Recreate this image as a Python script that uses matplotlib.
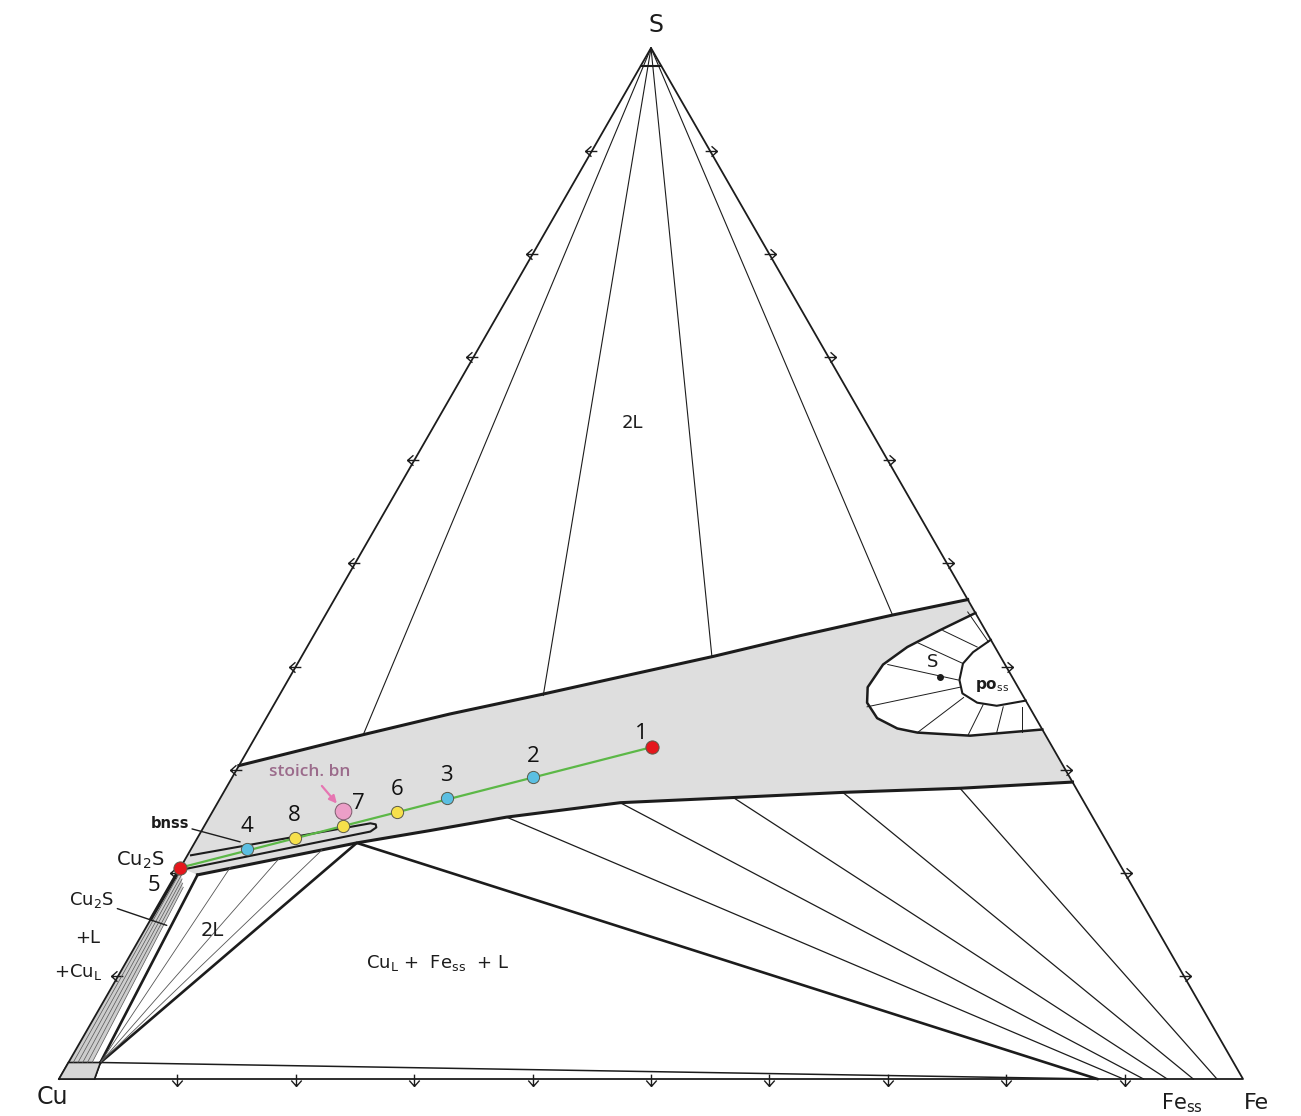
import numpy as np
import matplotlib.pyplot as plt
from matplotlib.path import Path

W, H = 1301, 1116

# Cu-Fe-S ternary section, weight %. Every point is (S, Fe); Cu is the rest.

# tie lines from the S corner to the upper limb of the liquid band
apex_tie_S = [33.4, 37.2, 40.9, 45.0]
apex_tie_Fe = [9.0, 22.3, 34.7, 47.9]

# upper and lower limbs of the shaded band
band_top_S = [30.4, 33.4, 35.4, 37.3, 39.2, 41.0, 43.0, 45.0, 46.5]
band_top_Fe = [0.0, 9.0, 15.3, 22.1, 28.6, 34.8, 41.1, 47.9, 53.5]
band_bot_S = [19.8, 22.9, 24.1, 25.4, 26.8, 27.3, 27.8, 28.2, 28.8]
band_bot_Fe = [1.8, 13.7, 19.3, 25.1, 34.0, 43.3, 52.3, 62.0, 71.2]
cu2s_S, cu2s_Fe = 20.5, 0.0

# tie lines from the lower limb down to Fe solid solution
fess_tie_top_S = [25.4, 26.8, 27.3, 27.8, 28.2]
fess_tie_top_Fe = [25.1, 34.0, 43.3, 52.3, 62.0]
fess_tie_bot_Fe = [89.9, 91.6, 93.6, 95.8, 97.8]

# three-phase triangle Cu_L + Fess + L
tri3_S = [1.6, 22.9, 0.0, 1.6]
tri3_Fe = [2.7, 13.7, 87.7, 2.7]

# bnss strip outline
bnss_S = [21.7, 24.8, 24.7, 24.4, 24.0, 20.4]
bnss_Fe = [0.3, 13.9, 14.4, 14.6, 14.3, 0.6]

# pyrrhotite loop on the Fe-S side
loop_out_S = [45.2, 43.5, 41.9, 40.2, 38.0, 36.5, 35.0, 34.0, 33.6, 33.3, 33.9]
loop_out_Fe = [54.8, 52.6, 50.7, 49.5, 49.3, 50.0, 51.6, 53.8, 55.7, 60.3, 66.1]
loop_in_S = [42.6, 41.4, 40.3, 38.7, 37.4, 36.5, 36.2, 36.7]
loop_in_Fe = [57.4, 56.5, 56.2, 56.7, 57.6, 59.3, 61.1, 63.3]
loop_tie_a_S = [45.3, 43.5, 42.3, 40.2, 36.1, 33.6, 33.4, 33.6, 33.7]
loop_tie_a_Fe = [54.1, 52.9, 51.4, 49.9, 50.2, 55.7, 60.1, 62.4, 64.5]
loop_tie_b_S = [42.4, 41.9, 40.3, 38.7, 38.0, 37.0, 36.3, 36.1, 36.1]
loop_tie_b_Fe = [57.3, 56.6, 56.2, 56.6, 57.1, 57.9, 59.9, 61.7, 63.3]
fes_dot = (39.0, 54.9)

# Cu corner: small Cu-rich box, Cu2S + L + Cu_L sliver and 2L tie lines
cu_box_S = [0.0, 0.0, 1.6, 1.6]
cu_box_Fe = [0.0, 3.0, 2.7, 0.0]
sliver_S = [20.5, 1.6, 1.6, 18.5]
sliver_Fe = [0.0, 0.0, 2.0, 1.2]
sliver_top_S = [20.2, 19.8, 19.4, 19.0, 18.6]
sliver_top_Fe = [0.2, 0.45, 0.7, 0.95, 1.2]
sliver_bot_Fe = [0.4, 0.8, 1.2, 1.6, 2.0]
twoL_top_S = [20.5, 21.4, 22.2]
twoL_top_Fe = [4.2, 7.9, 11.1]

# measured samples
pt_names = ['1', '2', '3', '4', '5', '6', '7', '8']
pt_S = [32.2, 29.3, 27.3, 22.3, 20.5, 25.9, 24.5, 23.4]
pt_Fe = [34.0, 25.4, 19.1, 4.7, 0.0, 15.6, 11.7, 8.2]
pt_kind = ['end', 'blue', 'blue', 'blue', 'end', 'yellow', 'yellow', 'yellow']
bornite = (26.0, 11.0)

ticks = [10, 20, 30, 40, 50, 60, 70, 80, 90]


def tern(S, Fe):
    S = np.asarray(S, float)
    Fe = np.asarray(Fe, float)
    return Fe + S / 2, S


def fp(x, y):
    # reference pixel -> figure fraction
    return x / W, 1 - y / H


fig = plt.figure(figsize=(W / 100, H / 100), dpi=100)
ax = fig.add_axes([0, 0, 1, 1])
ax.set_xlim(-59 / 11.84, (W - 59) / 11.84)
ax.set_ylim(-(H - 1079) / 10.31, 1079 / 10.31)
ax.axis('off')

ink = '#1c1c1c'

# shaded band
poly_S = band_top_S + band_bot_S[::-1] + [cu2s_S]
poly_Fe = band_top_Fe + band_bot_Fe[::-1] + [cu2s_Fe]
ax.fill(*tern(poly_S, poly_Fe), color='#dedede', lw=0, zorder=1)
ax.fill(*tern(loop_out_S, loop_out_Fe), color='white', lw=0, zorder=1.5)

# triangle
ax.plot(*tern([0, 0, 100, 0], [0, 100, 0, 0]), color=ink, lw=1.3, zorder=3)
ax.plot(*tern([98.3, 98.3], [0, 1.7]), color=ink, lw=1.5, zorder=3)

# edge ticks, small arrows pointing out of the triangle
M, L = Path.MOVETO, Path.LINETO
arrow_l = Path([(-1, 0), (0.7, 0), (-1, 0), (-0.15, 0.75), (-1, 0), (-0.15, -0.75)],
               [M, L, M, L, M, L])
arrow_r = Path([(1, 0), (-0.7, 0), (1, 0), (0.15, 0.75), (1, 0), (0.15, -0.75)],
               [M, L, M, L, M, L])
arrow_d = Path([(0, -1), (0, 0.7), (0, -1), (0.75, -0.15), (0, -1), (-0.75, -0.15)],
               [M, L, M, L, M, L])
tk = np.array(ticks, float)
ax.plot(*tern(tk, np.zeros_like(tk)), ls='none', marker=arrow_l, ms=10,
        mfc='none', mec=ink, mew=1.0, zorder=3)
ax.plot(*tern(tk, 100 - tk), ls='none', marker=arrow_r, ms=10,
        mfc='none', mec=ink, mew=1.0, zorder=3)
ax.plot(*tern(np.zeros_like(tk), tk), ls='none', marker=arrow_d, ms=10,
        mfc='none', mec=ink, mew=1.0, zorder=3)

# S-corner fan
for s, fe in zip(apex_tie_S, apex_tie_Fe):
    ax.plot(*tern([100, s], [0, fe]), color=ink, lw=0.8, zorder=3)

# band limbs
ax.plot(*tern(band_top_S, band_top_Fe), color=ink, lw=2.2, zorder=3)
ax.plot(*tern(band_bot_S, band_bot_Fe), color=ink, lw=2.2, zorder=3)

# Fess fan
for s, fe, fb in zip(fess_tie_top_S, fess_tie_top_Fe, fess_tie_bot_Fe):
    ax.plot(*tern([s, 0], [fe, fb]), color=ink, lw=0.9, zorder=3)

# three-phase triangle and the 2L field
ax.plot(*tern(tri3_S[:3], tri3_Fe[:3]), color=ink, lw=1.9, zorder=3)
ax.plot(*tern(tri3_S[2:], tri3_Fe[2:]), color=ink, lw=1.1, zorder=3)
ax.plot(*tern([1.6, band_bot_S[0]], [2.7, band_bot_Fe[0]]), color=ink, lw=1.9, zorder=3)
ax.plot(*tern([0, 1.6], [3.0, 2.7]), color=ink, lw=1.2, zorder=3)
for s, fe in zip(twoL_top_S, twoL_top_Fe):
    ax.plot(*tern([1.6, s], [2.7, fe]), color='#555555', lw=0.6, zorder=3)

# Cu corner box and the Cu2S + L + Cu_L sliver
ax.fill(*tern(cu_box_S, cu_box_Fe), facecolor='#d6d6d6', edgecolor=ink, lw=1.2, zorder=3)
ax.fill(*tern(sliver_S, sliver_Fe), color='#cdcdcd', lw=0, zorder=2)
for s, fe, fb in zip(sliver_top_S, sliver_top_Fe, sliver_bot_Fe):
    ax.plot(*tern([s, 1.6], [fe, fb]), color='#555555', lw=0.5, zorder=3)
ax.plot(*tern([cu2s_S, 15.5], [0, 0]), color=ink, lw=2.4, zorder=3)

# bnss strip
ax.plot(*tern(bnss_S, bnss_Fe), color=ink, lw=1.5, zorder=3)

# pyrrhotite loop
ax.plot(*tern(loop_out_S, loop_out_Fe), color=ink, lw=1.8, zorder=3)
ax.plot(*tern(loop_in_S, loop_in_Fe), color=ink, lw=1.5, zorder=3)
for a_s, a_fe, b_s, b_fe in zip(loop_tie_a_S, loop_tie_a_Fe, loop_tie_b_S, loop_tie_b_Fe):
    ax.plot(*tern([a_s, b_s], [a_fe, b_fe]), color=ink, lw=0.7, zorder=3)
ax.plot(*tern(*fes_dot), ls='none', marker='o', ms=4, color=ink, zorder=4)

# sample path and points
ax.plot(*tern([pt_S[4], pt_S[0]], [pt_Fe[4], pt_Fe[0]]), color='#5cb847', lw=1.6, zorder=5)
fill = {'end': '#e5171c', 'blue': '#5bbfe2', 'yellow': '#f6e04b'}
size = {'end': 9.5, 'blue': 8.8, 'yellow': 8.8}
for s, fe, k in zip(pt_S, pt_Fe, pt_kind):
    ax.plot(*tern(s, fe), ls='none', marker='o', ms=size[k], mfc=fill[k],
            mec='#5a5a4a', mew=0.7, zorder=6)
ax.plot(*tern(*bornite), ls='none', marker='o', ms=12, mfc='#ec9fc8',
        mec='#7a5a6a', mew=0.7, zorder=6)

label_off = {'1': (-11, 14), '2': (0, 20), '3': (0, 22), '4': (0, 23),
             '5': (-26, -18), '6': (0, 22), '7': (16, 23), '8': (0, 22)}
for name, s, fe in zip(pt_names, pt_S, pt_Fe):
    ax.annotate(name, xy=tern(s, fe), xytext=label_off[name], textcoords='offset pixels',
                ha='center', va='center', fontsize=16, family='Open Sans',
                color='#111111', zorder=7)

bx, by = tern(*bornite)
ax.annotate('stoich. bn', xy=(float(bx), float(by)), xytext=(310, H - 772),
            textcoords='figure pixels', ha='center', va='center', fontsize=12.5,
            family='Open Sans', fontweight='semibold', color='#9b6b8b',
            arrowprops=dict(arrowstyle='-|>', color='#e676b2', lw=1.6,
                            mutation_scale=11, shrinkA=3, shrinkB=7),
            zorder=7)

# labels from the original figure
def lab(x, y, s, size=14, **kw):
    fig.text(*fp(x, y), s, ha='center', va='center', fontsize=size, color=ink, **kw)


lab(656, 25, 'S', 17)
lab(52, 1097, 'Cu', 17)
lab(1182, 1103, r'Fe$_{\rm ss}$', 15)
lab(1256, 1103, 'Fe', 16)
lab(632, 423, '2L', 13)
lab(212, 931, '2L', 14)
lab(438, 963, r'Cu$_{\rm L}$ +  Fe$_{\rm ss}$  + L', 13)
lab(140, 860, r'Cu$_2$S', 14)
lab(88, 938, '+L', 13)
lab(78, 972, r'+Cu$_{\rm L}$', 13)
lab(933, 662, 'S', 13)
lab(992, 686, r'po$_{\rm ss}$', 11, fontweight='bold')

ax.annotate('bnss', xy=tern(23.0, 3.8), xytext=(170, H - 823), textcoords='figure pixels',
            ha='center', va='center', fontsize=10.5, fontweight='bold', color=ink,
            arrowprops=dict(arrowstyle='-', color=ink, lw=1.0, shrinkA=0, shrinkB=0))
ax.annotate(r'Cu$_2$S', xy=tern(14.9, 1.65), xytext=(92, H - 900), textcoords='figure pixels',
            ha='center', va='center', fontsize=13, color=ink,
            arrowprops=dict(arrowstyle='-', color=ink, lw=1.0, shrinkA=0, shrinkB=0))

fig.savefig('out.png', dpi=100, facecolor='white')
